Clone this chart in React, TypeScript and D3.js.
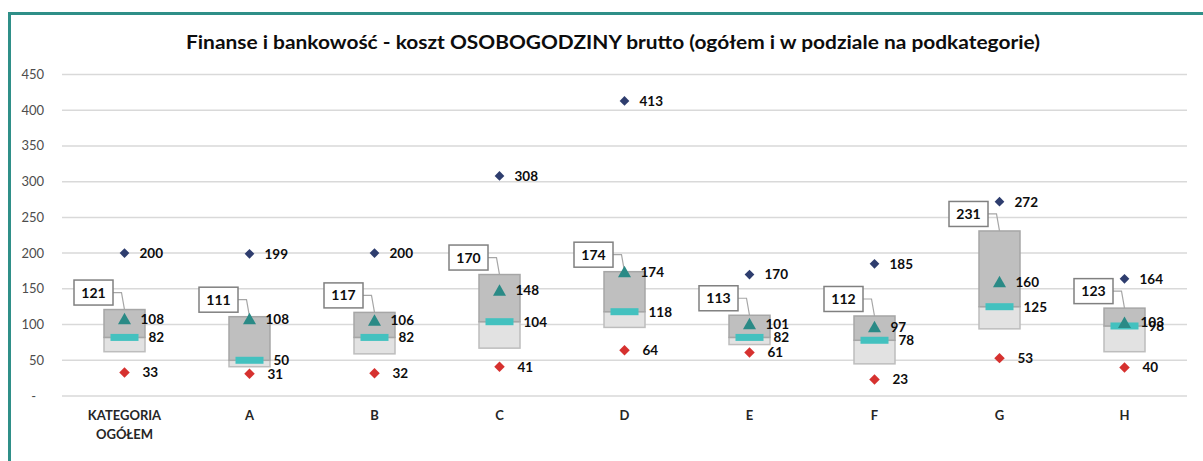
import { useEffect, useRef } from 'react';
import * as d3 from 'd3';

const categories = ['KATEGORIA\nOGÓŁEM', 'A', 'B', 'C', 'D', 'E', 'F', 'G', 'H'];
const maxValues = [200, 199, 200, 308, 413, 170, 185, 272, 164];
const q3Values = [121, 111, 117, 170, 174, 113, 112, 231, 123];
const meanValues = [108, 108, 106, 148, 174, 101, 97, 160, 103];
const medianValues = [82, 50, 82, 104, 118, 82, 78, 125, 98];
const q1Values = [62, 41, 59, 67, 96, 72, 45, 94, 62];
const minValues = [33, 31, 32, 41, 64, 61, 23, 53, 40];
const yTicks = [0, 50, 100, 150, 200, 250, 300, 350, 400, 450];

const TITLE = 'Finanse i bankowość - koszt OSOBOGODZINY brutto (ogółem i w podziale na podkategorie)';
const FONT = 'Lato, "Open Sans", sans-serif';

function BoxChart() {
  const svgRef = useRef<SVGSVGElement>(null);

  useEffect(() => {
    if (!svgRef.current) return;
    const svg = d3.select(svgRef.current);
    svg.selectAll('*').remove();

    const W = 1203;
    const H = 461;
    const left = 62;
    const right = 1187;

    svg.attr('width', W).attr('height', H).attr('viewBox', `0 0 ${W} ${H}`);

    // chart frame
    svg.append('rect')
      .attr('x', 9.5).attr('y', 13.5)
      .attr('width', W + 20).attr('height', H + 20)
      .attr('fill', '#fff')
      .attr('stroke', '#2f8f88')
      .attr('stroke-width', 3);

    const x = d3.scaleBand<number>()
      .domain(categories.map((_, i) => i))
      .range([left, right]);
    const y = d3.scaleLinear().domain([0, 450]).range([396, 74.5]);
    const cx = (i: number) => (x(i) ?? 0) + x.bandwidth() / 2;

    svg.append('text')
      .attr('x', 186).attr('y', 49)
      .attr('textLength', 854)
      .attr('lengthAdjust', 'spacingAndGlyphs')
      .attr('font-family', FONT)
      .attr('font-weight', 'bold')
      .attr('font-size', '19px')
      .attr('fill', '#0d0d0d')
      .text(TITLE);

    // grid + y labels
    const grid = svg.append('g');
    yTicks.forEach(t => {
      grid.append('line')
        .attr('x1', left).attr('x2', right)
        .attr('y1', y(t)).attr('y2', y(t))
        .attr('stroke', '#d9d9d9')
        .attr('stroke-width', 1.5);
      grid.append('text')
        .attr('x', t === 0 ? 36 : 44)
        .attr('y', y(t))
        .attr('dy', '0.35em')
        .attr('text-anchor', 'end')
        .attr('font-family', FONT)
        .attr('font-size', '13px')
        .attr('fill', '#4d4d4d')
        .text(t === 0 ? '-' : String(t));
    });

    // x labels
    categories.forEach((c, i) => {
      const lines = c.split('\n');
      const t = svg.append('text')
        .attr('text-anchor', 'middle')
        .attr('font-family', FONT)
        .attr('font-weight', 'bold')
        .attr('font-size', '13px')
        .attr('fill', '#262626');
      lines.forEach((l, k) => {
        t.append('tspan').attr('x', cx(i)).attr('y', 420 + k * 19).text(l);
      });
    });

    const boxW = 41;
    const g = svg.append('g');

    categories.forEach((_, i) => {
      const c = cx(i);
      // lower box: Q1 -> median
      g.append('rect')
        .attr('x', c - boxW / 2).attr('width', boxW)
        .attr('y', y(medianValues[i]))
        .attr('height', y(q1Values[i]) - y(medianValues[i]))
        .attr('fill', '#e2e2e2')
        .attr('stroke', '#bdbdbd')
        .attr('stroke-width', 1.5);
      // upper box: median -> Q3
      g.append('rect')
        .attr('x', c - boxW / 2).attr('width', boxW)
        .attr('y', y(q3Values[i]))
        .attr('height', y(medianValues[i]) - y(q3Values[i]))
        .attr('fill', '#bfbfbf')
        .attr('stroke', '#a6a6a6')
        .attr('stroke-width', 1.5);

      // Q3 callout
      const top = y(q3Values[i]);
      const bx = c - 31;
      const by = top - 17;
      g.append('path')
        .attr('d', `M${bx + 19.5},${by} H${c - 3} L${c},${top}`)
        .attr('fill', 'none')
        .attr('stroke', '#a6a6a6')
        .attr('stroke-width', 1.2);
      g.append('rect')
        .attr('x', bx - 19.5).attr('y', by - 12.5)
        .attr('width', 39).attr('height', 25)
        .attr('fill', '#fff')
        .attr('stroke', '#808080')
        .attr('stroke-width', 1.5);
      g.append('text')
        .attr('x', bx).attr('y', by)
        .attr('dy', '0.36em')
        .attr('text-anchor', 'middle')
        .attr('font-family', FONT)
        .attr('font-weight', 'bold')
        .attr('font-size', '14px')
        .attr('fill', '#0d0d0d')
        .text(q3Values[i]);

      // median bar
      g.append('rect')
        .attr('x', c - 14).attr('width', 28)
        .attr('y', y(medianValues[i]) - 3.5).attr('height', 7)
        .attr('fill', '#43c1bf');

      // max
      g.append('path')
        .attr('d', d3.symbol().type(d3.symbolDiamond2).size(60)()!)
        .attr('transform', `translate(${c},${y(maxValues[i])})`)
        .attr('fill', '#2e3d6e');
      // min
      g.append('path')
        .attr('d', d3.symbol().type(d3.symbolDiamond2).size(70)()!)
        .attr('transform', `translate(${c},${y(minValues[i])})`)
        .attr('fill', '#d6312f');
      // mean triangle
      const my = y(meanValues[i]);
      g.append('path')
        .attr('d', `M${c - 6.5},${my + 5.5} L${c + 6.5},${my + 5.5} L${c},${my - 6} Z`)
        .attr('fill', '#2a8a86');

      const label = (v: number, dx: number) =>
        g.append('text')
          .attr('x', c + dx).attr('y', y(v))
          .attr('dy', '0.36em')
          .attr('font-family', FONT)
          .attr('font-weight', 'bold')
          .attr('font-size', '13.5px')
          .attr('fill', '#0d0d0d')
          .text(v);
      label(maxValues[i], 15);
      label(meanValues[i], 16);
      label(medianValues[i], 24);
      label(minValues[i], 18);
    });
  }, []);

  return <svg ref={svgRef} style={{ display: 'block' }} />;
}

export default function App() {
  return (
    <div style={{ position: 'fixed', left: 0, top: 0, width: 1203, height: 461, overflow: 'hidden', background: '#fff' }}>
      <BoxChart />
    </div>
  );
}
